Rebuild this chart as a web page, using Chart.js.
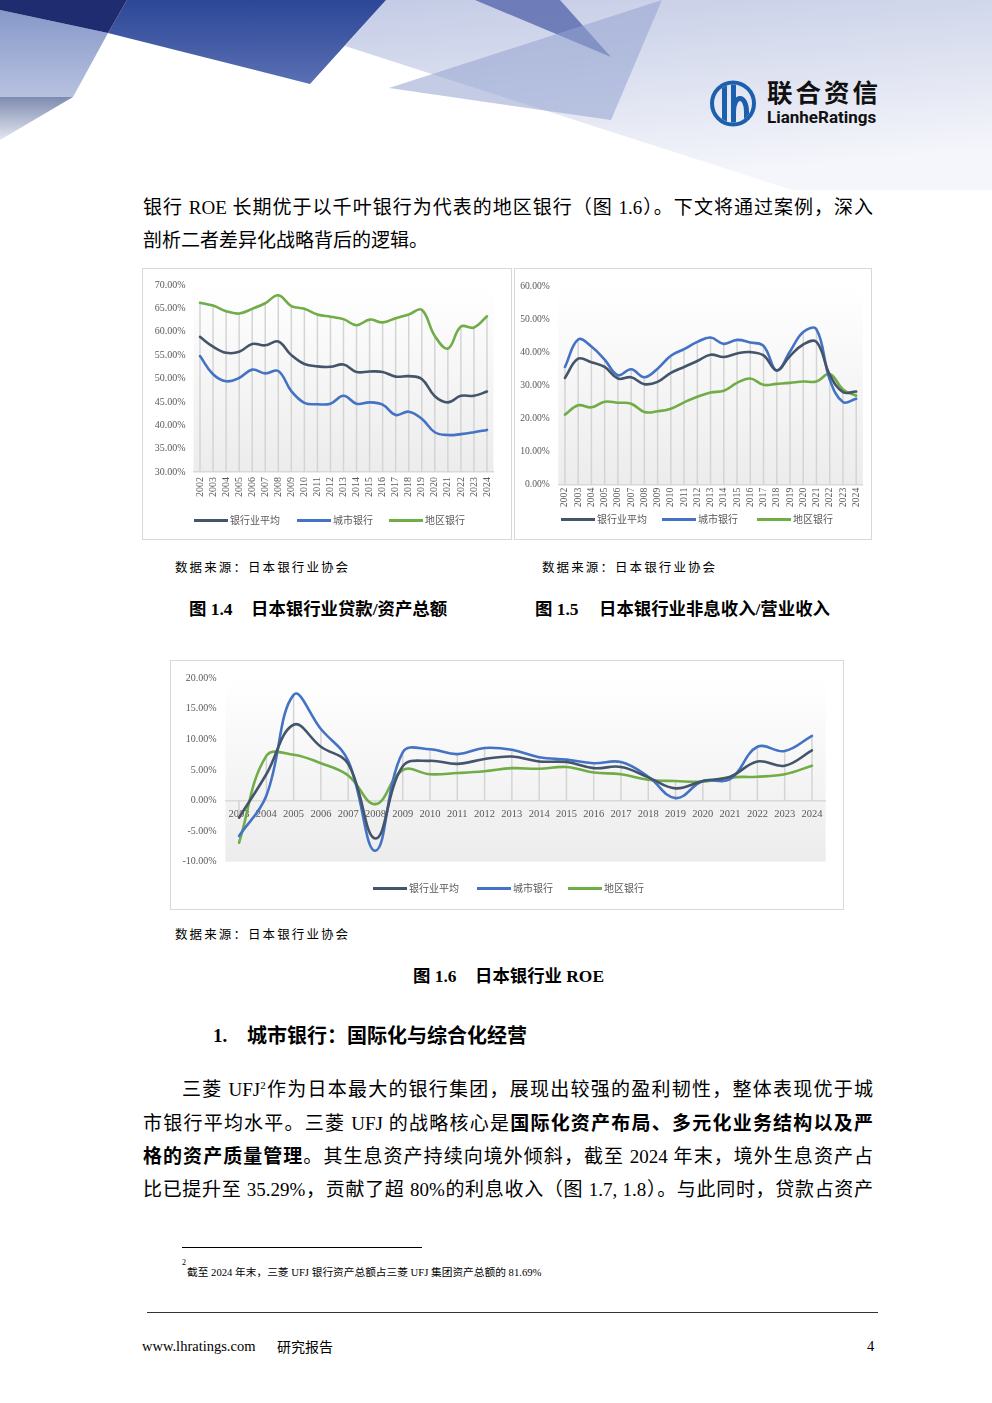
<!DOCTYPE html>
<html>
<head>
<meta charset="utf-8">
<script src="https://cdn.jsdelivr.net/npm/chart.js@4.4.1/dist/chart.umd.min.js"></script>
<style>
  body { margin: 0; width: 992px; height: 1403px; position: relative; overflow: hidden; background: #fff;
         font-family: "Liberation Serif", "Noto Sans CJK SC", serif; color: #000; }
  .line { position: absolute; font-size: 19px; line-height: 24px; text-align: justify; text-align-last: justify; }
  .line sup { font-size: 11px; line-height: 0; }
  .frame { position: absolute; border: 1px solid #d9d9d9; background: #fff; }
  .frame canvas { position: absolute; left: 0; top: 0; }
  .lgsw { position: absolute; height: 3px; }
  .lgtx { position: absolute; font-size: 10px; line-height: 12px; color: #595959; font-family: "Noto Sans CJK SC", sans-serif; white-space: nowrap; }
  .src { position: absolute; font-size: 12.5px; letter-spacing: 2.1px; line-height: 16px; font-family: "Noto Sans CJK SC", sans-serif; white-space: nowrap; }
  .cap { position: absolute; font-size: 17.4px; line-height: 22px; font-weight: bold; white-space: nowrap; }
</style>
</head>
<body>

<svg class="hdr" width="992" height="200" style="position:absolute;left:0;top:0">
  <defs>
    <linearGradient id="lav" x1="0" y1="0" x2="0.3" y2="1">
      <stop offset="0" stop-color="#c3cbe5"/>
      <stop offset="1" stop-color="#f5f6fb"/>
    </linearGradient>
    <linearGradient id="blu" x1="0" y1="0" x2="0" y2="1">
      <stop offset="0" stop-color="#2c4797"/>
      <stop offset="1" stop-color="#5b70b4"/>
    </linearGradient>
    <linearGradient id="gry" x1="0" y1="0" x2="0" y2="1">
      <stop offset="0" stop-color="#7e8bb0"/>
      <stop offset="1" stop-color="#e4e7f0"/>
    </linearGradient>
    <linearGradient id="sla" x1="0" y1="0" x2="0" y2="1">
      <stop offset="0" stop-color="#8798c9"/>
      <stop offset="1" stop-color="#b7c2e0"/>
    </linearGradient>
    <clipPath id="lc"><circle cx="733" cy="103.5" r="19"/></clipPath>
  </defs>
  <polygon points="386,0 992,0 992,190 792,190 345,46" fill="url(#lav)"/>
  <polygon points="475,0 560,0 611,57" fill="#5e6fb0" opacity="0.85"/>
  <polygon points="389,88 662,0 611,120" fill="#93a2cf" opacity="0.55"/>
  <polygon points="0,10 108,33 73,97 0,97" fill="url(#sla)"/>
  <polygon points="0,97 73,97 0,140" fill="url(#gry)"/>
  <polygon points="127,0 386,0 310,84 108,33" fill="url(#blu)"/>
  <polygon points="0,0 127,0 108,33 0,10" fill="#1f2d70"/>
  <!-- logo -->
  <circle cx="733" cy="103.5" r="21" fill="none" stroke="#1c5fad" stroke-width="4"/>
  <g clip-path="url(#lc)" fill="#1c5fad">
    <rect x="722" y="80" width="5" height="50"/>
    <rect x="731" y="80" width="5" height="50"/>
    <path d="M733.5 112 C733.5 94, 746.5 94, 746.5 112 L746.5 130" fill="none" stroke="#1c5fad" stroke-width="5"/>
  </g>
  <text x="767" y="102" font-family="Noto Sans CJK SC" font-weight="bold" font-size="25.5" letter-spacing="3" fill="#111">联合资信</text>
  <text x="767" y="123" font-family="Roboto" font-weight="bold" font-size="17" fill="#111">LianheRatings</text>
</svg>

<div class="line" style="left:143px;top:196px;width:730px">银行 ROE 长期优于以千叶银行为代表的地区银行（图 1.6）。下文将通过案例，深入</div>
<div class="line" style="left:143px;top:229px;width:730px;text-align:left;text-align-last:left">剖析二者差异化战略背后的逻辑。</div>

<div class="frame" style="left:142px;top:268px;width:368px;height:270px"><canvas id="c1" width="368" height="270"></canvas></div>
<div class="frame" style="left:514px;top:268px;width:356px;height:270px"><canvas id="c2" width="356" height="270"></canvas></div>
<div class="frame" style="left:170px;top:660px;width:672px;height:248px"><canvas id="c3" width="672" height="248"></canvas></div>

<div class="src" style="left:175px;top:559px">数据来源：日本银行业协会</div>
<div class="src" style="left:542px;top:559px">数据来源：日本银行业协会</div>
<div class="cap" style="left:189px;top:598px">图 1.4</div>
<div class="cap" style="left:251px;top:598px">日本银行业贷款/资产总额</div>
<div class="cap" style="left:535px;top:598px">图 1.5</div>
<div class="cap" style="left:599px;top:598px">日本银行业非息收入/营业收入</div>

<div class="src" style="left:175px;top:926px">数据来源：日本银行业协会</div>
<div class="cap" style="left:413px;top:965px">图 1.6</div>
<div class="cap" style="left:475px;top:965px">日本银行业 ROE</div>

<div class="cap" style="left:213px;top:1025px;font-size:19px">1.</div>
<div class="cap" style="left:247px;top:1025px;font-size:20px">城市银行：国际化与综合化经营</div>

<div class="line" style="left:182px;top:1078px;width:691px">三菱 UFJ<sup>2</sup>作为日本最大的银行集团，展现出较强的盈利韧性，整体表现优于城</div>
<div class="line" style="left:143px;top:1112px;width:730px">市银行平均水平。三菱 UFJ 的战略核心是<b>国际化资产布局、多元化业务结构以及严</b></div>
<div class="line" style="left:143px;top:1145px;width:730px"><b>格的资产质量管理</b>。其生息资产持续向境外倾斜，截至 2024 年末，境外生息资产占</div>
<div class="line" style="left:143px;top:1178px;width:730px">比已提升至 35.29%，贡献了超 80%的利息收入（图 1.7, 1.8）。与此同时，贷款占资产</div>

<div style="position:absolute;left:182px;top:1247px;width:240px;height:1px;background:#000"></div>
<div style="position:absolute;left:182px;top:1258px;font-size:8px;line-height:10px">2</div>
<div style="position:absolute;left:187px;top:1266px;font-size:10.7px;line-height:13px;white-space:nowrap">截至 2024 年末，三菱 UFJ 银行资产总额占三菱 UFJ 集团资产总额的 81.69%</div>

<div style="position:absolute;left:147px;top:1312px;width:731px;height:1px;background:#333"></div>
<div style="position:absolute;left:142px;top:1337px;font-size:14.5px;line-height:18px;white-space:nowrap">www.lhratings.com</div>
<div style="position:absolute;left:277px;top:1337px;font-size:14px;line-height:18px;white-space:nowrap;font-family:'Noto Sans CJK SC'">研究报告</div>
<div style="position:absolute;left:867px;top:1337px;font-size:14.5px;line-height:18px">4</div>

<div id="lg1"></div><div id="lg2"></div><div id="lg3"></div>

<script>
// 数据
const seriesNames = ['银行业平均', '城市银行', '地区银行'];
const years = ['2002','2003','2004','2005','2006','2007','2008','2009','2010','2011','2012',
               '2013','2014','2015','2016','2017','2018','2019','2020','2021','2022','2023','2024'];

// 图 1.4 贷款/资产总额 (%)
const loanAvg      = [58.9,56.8,55.5,55.7,57.4,57.1,57.9,55.0,53.1,52.6,52.5,53.0,51.4,51.5,51.4,50.4,50.5,49.9,46.2,44.9,46.3,46.3,47.2];
const loanCity     = [54.8,50.9,49.4,50.1,51.9,51.1,51.6,47.3,44.8,44.5,44.6,46.3,44.6,44.9,44.4,42.2,42.9,41.4,38.5,37.9,38.1,38.5,39.0];
const loanRegional = [66.2,65.6,64.4,63.9,64.9,66.1,67.8,65.5,64.9,63.7,63.2,62.7,61.4,62.6,62.0,62.9,63.7,64.7,59.1,56.4,61.1,60.9,63.3];

// 图 1.5 非息收入/营业收入 (%)
const nonIntAvg      = [32.3,38.1,37.0,35.6,32.1,32.5,30.4,31.1,33.8,35.6,37.4,39.3,38.6,39.7,40.1,39.1,34.6,38.9,42.4,43.2,33.3,28.0,28.2];
const nonIntCity     = [35.6,43.9,41.8,37.8,33.1,34.9,32.5,35.1,39.0,41.0,43.2,44.5,42.6,43.8,43.0,42.0,34.5,40.3,46.2,47.0,31.8,25.0,26.0];
const nonIntRegional = [21.2,24.0,23.4,25.1,24.8,24.5,22.0,22.2,23.0,24.9,26.6,27.9,28.4,30.8,32.1,30.2,30.5,30.8,31.2,31.2,33.5,28.8,26.9];

// 图 1.6 ROE (%)
const roeYears = ['2003','2004','2005','2006','2007','2008','2009','2010','2011','2012','2013',
                  '2014','2015','2016','2017','2018','2019','2020','2021','2022','2023','2024'];
const roeAvg      = [-2.8,4.3,12.4,8.8,6.0,-6.2,5.6,6.5,6.0,6.8,7.2,6.4,6.3,5.3,5.5,3.8,2.0,3.2,3.9,6.4,5.7,8.2];
const roeCity     = [-5.8,0.8,17.3,11.7,6.5,-8.2,7.9,8.4,7.6,8.6,8.3,7.1,6.7,6.1,6.3,3.9,0.4,3.2,3.5,8.8,8.1,10.6];
const roeRegional = [-6.9,7.3,7.5,6.1,4.1,-0.6,5.0,4.3,4.5,4.8,5.3,5.2,5.5,4.6,4.3,3.4,3.2,3.1,3.8,3.9,4.3,5.7];

const colors = ['#44546a', '#4472c4', '#70ad47'];
const tickColor = '#595959';

const plotBg = {
    id: 'plotBg',
    beforeDraw(chart) {
        const { ctx, chartArea: a } = chart;
        const g = ctx.createLinearGradient(0, a.top, 0, a.bottom);
        g.addColorStop(0, '#ffffff');
        g.addColorStop(1, '#ececec');
        ctx.save();
        ctx.fillStyle = g;
        ctx.fillRect(a.left, a.top, a.right - a.left, a.bottom - a.top);
        ctx.restore();
    }
};

// 垂直线: 从最高系列落到横轴
const dropLines = {
    id: 'dropLines',
    beforeDatasetsDraw(chart, args, opts) {
        const { ctx } = chart;
        const x = chart.scales.x, y = chart.scales.y;
        const base = y.getPixelForValue(opts.base);
        ctx.save();
        ctx.strokeStyle = '#d4d4d4';
        ctx.lineWidth = 1.5;
        chart.data.labels.forEach((_, i) => {
            const top = Math.max(...chart.data.datasets.map(d => d.data[i]));
            const px = x.getPixelForValue(i);
            ctx.beginPath();
            ctx.moveTo(px, y.getPixelForValue(top));
            ctx.lineTo(px, base);
            ctx.stroke();
        });
        ctx.restore();
    }
};

function makeDatasets(arrs) {
    return arrs.map((d, i) => ({
        label: seriesNames[i],
        data: d,
        borderColor: colors[i],
        backgroundColor: colors[i],
        borderWidth: 2.6,
        pointRadius: 0,
        tension: 0.4,
        fill: false,
        borderCapStyle: 'round'
    }));
}

function makeChart(id, labels, arrs, o) {
    return new Chart(document.getElementById(id), {
        type: 'line',
        data: { labels: labels, datasets: makeDatasets(arrs) },
        options: {
            responsive: false,
            animation: false,
            layout: { padding: o.padding },
            scales: {
                x: Object.assign({
                    offset: true,
                    grid: { display: false, drawTicks: false },
                    border: { display: true, color: '#d9d9d9', width: 1.5 },
                    ticks: {
                        autoSkip: false,
                        minRotation: o.rot, maxRotation: o.rot,
                        padding: o.xPad,
                        color: tickColor,
                        font: { family: 'Liberation Serif', size: o.xFont }
                    },
                    afterFit: s => { if (o.xH) s.height = o.xH; }
                }, o.xPos ? { position: o.xPos } : {}),
                y: {
                    min: o.min, max: o.max,
                    grid: { display: false, drawTicks: false },
                    border: { display: false },
                    ticks: {
                        stepSize: o.step,
                        padding: o.yPad,
                        color: tickColor,
                        font: { family: 'Liberation Serif', size: o.yFont },
                        callback: v => v.toFixed(2) + '%'
                    },
                    afterFit: s => { s.width = o.yW; }
                }
            },
            plugins: {
                legend: { display: false },
                tooltip: { enabled: false },
                dropLines: { base: o.base }
            }
        },
        plugins: [plotBg, dropLines]
    });
}

makeChart('c1', years, [loanAvg, loanCity, loanRegional], {
    padding: { top: 16, right: 17.5, left: 0, bottom: 0 },
    min: 30, max: 70, step: 5, base: 30,
    yW: 50.5, yPad: 8, yFont: 10, rot: 90, xPad: 5, xFont: 10, xH: 67
});
makeChart('c2', years, [nonIntAvg, nonIntCity, nonIntRegional], {
    padding: { top: 17.3, right: 1.5, left: 0, bottom: 0 },
    min: 0, max: 60, step: 10, base: 0,
    yW: 43.3, yPad: 8.5, yFont: 9.6, rot: 90, xPad: 3, xFont: 9.8, xH: 54.3
});
makeChart('c3', roeYears, [roeAvg, roeCity, roeRegional], {
    padding: { top: 17.3, right: 17.4, left: 0, bottom: 47.3 },
    min: -10, max: 20, step: 5, base: 0,
    yW: 54.4, yPad: 8.7, yFont: 10, rot: 0, xPad: 7, xFont: 10.5, xPos: { y: 0 }
});

// 图例 (HTML)
function legend(id, y, items) {
    const box = document.getElementById(id);
    items.forEach((it, i) => {
        const sw = document.createElement('div');
        sw.className = 'lgsw';
        sw.style.cssText = `left:${it[0]}px;top:${y - 1.5}px;width:34px;background:${colors[i]}`;
        const tx = document.createElement('div');
        tx.className = 'lgtx';
        tx.style.cssText = `left:${it[0] + 36}px;top:${y - 6}px`;
        tx.textContent = seriesNames[i];
        box.appendChild(sw);
        box.appendChild(tx);
    });
}
legend('lg1', 520, [[194], [297], [389]]);
legend('lg2', 519, [[561], [662], [757]]);
legend('lg3', 888, [[373], [477], [568]]);
</script>
</body>
</html>
